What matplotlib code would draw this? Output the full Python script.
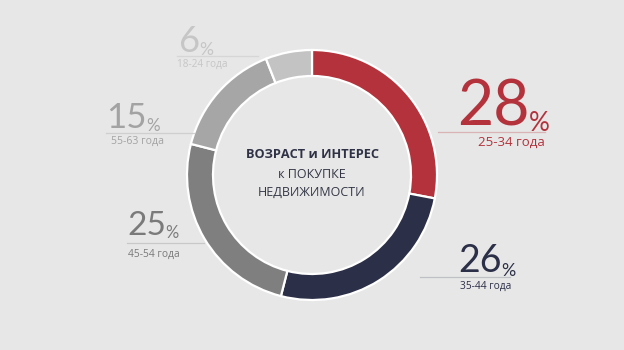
import matplotlib
matplotlib.use("Agg")
import matplotlib.pyplot as plt

# data
shares = [28, 26, 25, 15, 6]
ages = ["25-34 года", "35-44 года", "45-54 года", "55-63 года", "18-24 года"]
colors = ["#B3323B", "#2B2F47", "#7F7F7F", "#A6A6A6", "#C3C3C3"]
text_colors = ["#B3323B", "#2B2F47", "#7A7A7A", "#A3A3A3", "#C6C6C6"]
line_colors = ["#D9B3B5", "#BFC0C6", "#C8C8C8", "#CFCFCF", "#D6D6D6"]

W, H = 624, 350
BG = "#E7E7E7"

fig = plt.figure(figsize=(W / 100, H / 100), dpi=100, facecolor=BG)
ax = fig.add_axes([0, 0, 1, 1])
ax.set_facecolor(BG)

def Y(y):
    # image rows -> data y
    return H - y

ax.pie(shares, colors=colors, startangle=90, counterclock=False,
       center=(312, Y(175)), radius=125, frame=True,
       wedgeprops=dict(width=26, edgecolor="white", linewidth=1.6))
ax.set_xlim(0, W)
ax.set_ylim(0, H)
ax.set_aspect("equal")
ax.axis("off")

num_font = ["Lato", "DejaVu Sans"]
txt_font = ["Open Sans", "DejaVu Sans"]

# label layout: (number x, baseline y, size, line x0, x1, line y, sub align, sub x, sub y, sub size)
layout = [
    (457, 125, 45, 438, 545, 132, "right", 545, 142, 9.5),
    (458, 272, 27, 420, 510, 277, "right", 511, 286, 7.3),
    (127, 235, 24, 127, 204, 243, "left", 128, 254, 7.4),
    (106, 128, 25, 106, 194, 133, "left", 111, 141, 7.5),
    (179, 52, 26, 177, 258, 56, "left", 177, 64, 7.2),
]

for i, (nx_, by, fs, x0, x1, ly, al, sx, sy, ss) in enumerate(layout):
    c = text_colors[i]
    t = ax.text(nx_, Y(by), str(shares[i]), fontsize=fs, color=c,
                family=num_font, ha="left", va="baseline")
    ax.annotate("%", xy=(1, 0), xycoords=t, xytext=(-0.5, 0),
                textcoords="offset points", fontsize=fs * 0.33 + 4,
                color=c, family=num_font, ha="left", va="bottom")
    ax.plot([x0, x1], [Y(ly), Y(ly)], color=line_colors[i], lw=0.9)
    ax.text(sx, Y(sy), ages[i], fontsize=ss, color=c, family=txt_font,
            ha=al, va="center")

ax.text(312, Y(155), "ВОЗРАСТ и ИНТЕРЕС", fontsize=9.2, fontweight="bold",
        color="#2F3246", family=txt_font, ha="center", va="center")
ax.text(312, Y(174), "к ПОКУПКЕ", fontsize=9, color="#333645",
        family=txt_font, ha="center", va="center")
ax.text(312, Y(192), "НЕДВИЖИМОСТИ", fontsize=9, color="#333645",
        family=txt_font, ha="center", va="center")

fig.savefig("out.png", dpi=100, facecolor=BG)
